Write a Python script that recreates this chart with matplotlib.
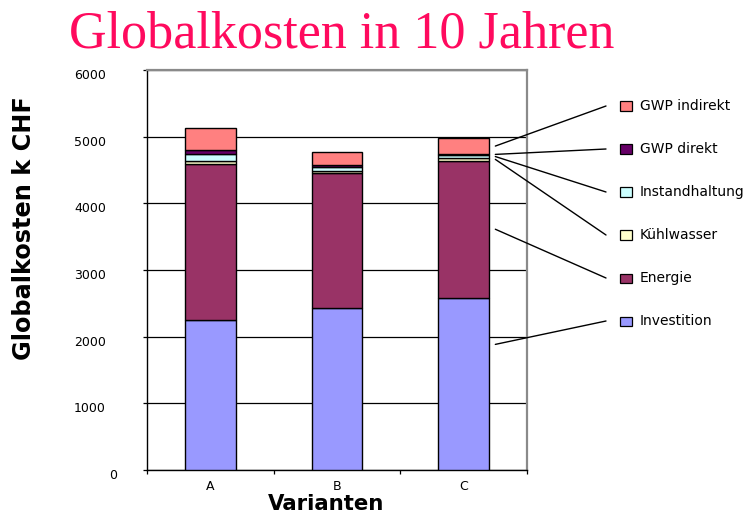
import matplotlib
matplotlib.use("Agg")
import matplotlib.pyplot as plt
from matplotlib.patches import Rectangle
from matplotlib.transforms import ScaledTranslation
import numpy as np

# ---------------- data ----------------
categories = ["A", "B", "C"]
series_names = ["Investition", "Energie", "Kühlwasser", "Instandhaltung",
                "GWP direkt", "GWP indirekt"]
investition = [2256, 2432, 2581]
energie = [2338, 2019, 2061]
kuehlwasser = [42, 35, 35]
instandhaltung = [111, 63, 50]
gwp_direkt = [55, 22, 14]
gwp_indirekt = [326, 206, 236]
y_ticks = [0, 1000, 2000, 3000, 4000, 5000, 6000]

title = "Globalkosten in 10 Jahren"
y_label = "Globalkosten k CHF"
x_label = "Varianten"

# ---------------- style ----------------
colors = ["#9999FF", "#993366", "#FFFFCC", "#CCFFFF", "#660066", "#FF8080"]
W, H = 755, 514

plt.rcParams['font.family'] = ['DejaVu Sans']
fig = plt.figure(figsize=(W / 100, H / 100), dpi=100)
ax = fig.add_axes([147 / W, 44 / H, 380 / W, 400 / H])

values = [investition, energie, kuehlwasser, instandhaltung, gwp_direkt, gwp_indirekt]
x = np.arange(len(categories))
bottom = np.zeros(len(categories))
bottoms = []
for vals, col, name in zip(values, colors, series_names):
    vals = np.array(vals, dtype=float)
    ax.bar(x, vals, width=0.4, bottom=bottom, color=col, edgecolor="black",
           linewidth=1.0, label=name, zorder=3)
    bottoms.append(bottom.copy())
    bottom = bottom + vals

ax.set_xlim(-0.5, 2.5)
ax.set_ylim(0, 6000)
ax.set_yticks(y_ticks)
ax.set_yticklabels([str(t) for t in y_ticks], fontsize=9)
ax.yaxis.grid(True, color="black", linewidth=0.9)
ax.set_axisbelow(True)

# x ticks: marks at category borders, labels at centres
ax.set_xticks([-0.5, 0.5, 1.5, 2.5])
ax.set_xticklabels(["", "", "", ""])
ax.set_xticks(x, minor=True)
ax.set_xticklabels(categories, minor=True, fontsize=9)
ax.tick_params(axis="x", which="major", direction="out", length=3, width=0.9)
ax.tick_params(axis="x", which="minor", length=0, pad=7.5)
ax.tick_params(axis="y", direction="out", length=3, width=0.9, pad=26.5)

for sp in ["left", "bottom"]:
    ax.spines[sp].set_color("black")
    ax.spines[sp].set_linewidth(1.0)
for sp in ["top", "right"]:
    ax.spines[sp].set_color("#8a8a8a")
    ax.spines[sp].set_linewidth(1.6)

# tick labels sit slightly below their gridlines
for tick in ax.yaxis.get_major_ticks():
    lab = tick.label1
    dx = 11 / 100 if lab.get_text() == "0" else 0
    lab.set_transform(lab.get_transform() + ScaledTranslation(dx, -4 / 100, fig.dpi_scale_trans))

# axis labels
ax.set_ylabel(y_label, fontsize=17.3, fontweight="bold", va="center")
ax.yaxis.set_label_coords((24 - 147) / 380, (470 - 228) / 400)
ax.set_xlabel(x_label, fontsize=15.3, fontweight="bold", va="bottom")
ax.xaxis.set_label_coords((326 - 147) / 380, (470 - 513.8) / 400)

# title
fig.text(69 / W, (H - 47) / H, title, fontsize=37.5, color="#FF0A5E",
         family="Liberation Serif", ha="left", va="baseline")

# legend (manual, with leader lines)
legend_top = 106
legend_step = 43
anchor_frac = [0.73, 0.5, 0.5, 0.5, 0.5, 0.5]
n = len(series_names)
for i in range(n):
    k = n - 1 - i  # top entry is the last series
    yc = legend_top + legend_step * i
    fig.add_artist(Rectangle((620 / W, (H - yc - 4.5) / H), 12 / W, 9 / H,
                             transform=fig.transFigure, facecolor=colors[k],
                             edgecolor="black", linewidth=0.9))
    fig.text(640 / W, (H - yc) / H, series_names[k], fontsize=10,
             ha="left", va="center")
    yv = bottoms[k][2] + anchor_frac[k] * values[k][2]
    ax.annotate("", xy=(2.25, yv), xycoords="data",
                xytext=(606, H - yc), textcoords="figure pixels",
                arrowprops=dict(arrowstyle="-", color="black", lw=1.0,
                                shrinkA=0, shrinkB=0),
                annotation_clip=False)

fig.savefig("out.png", dpi=100)
